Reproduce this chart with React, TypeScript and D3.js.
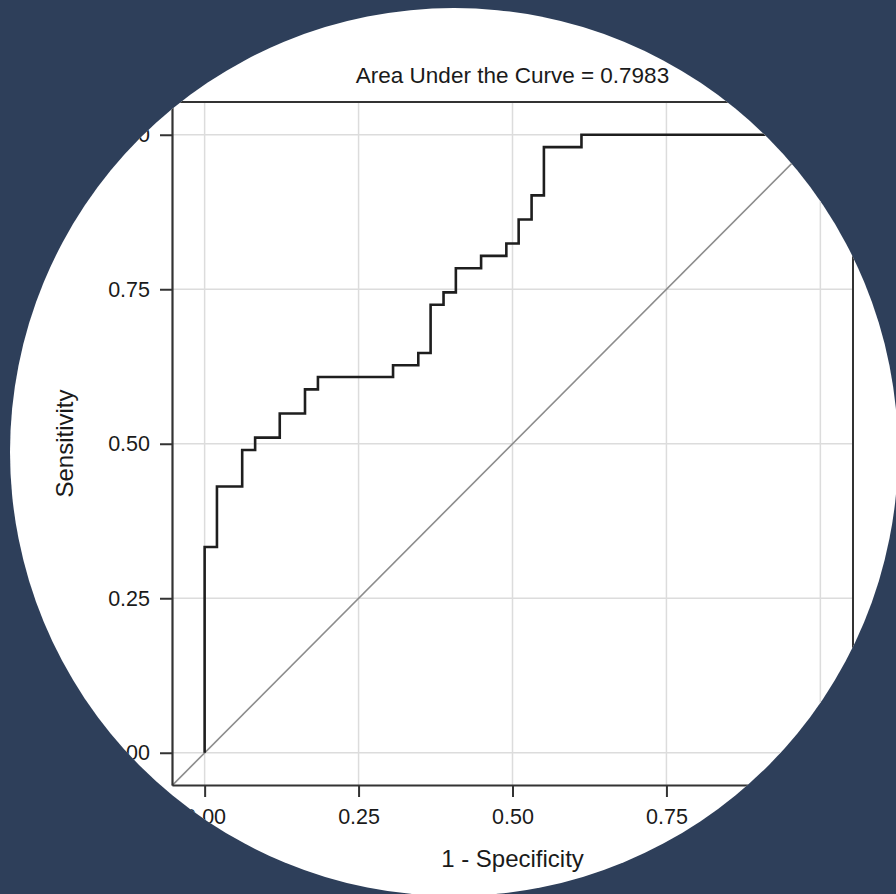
import React, { useEffect, useRef } from 'react'
import * as d3 from 'd3'

// ROC points (1 - specificity, sensitivity)
const fpr = [0, 0.020, 0.061, 0.082, 0.122, 0.163, 0.184, 0.306, 0.347, 0.367, 0.388, 0.408, 0.449, 0.490, 0.510, 0.531, 0.551, 0.612, 1.0]
const tpr = [0, 0.333, 0.431, 0.490, 0.510, 0.549, 0.588, 0.608, 0.627, 0.647, 0.725, 0.745, 0.784, 0.804, 0.824, 0.863, 0.902, 0.980, 1.0]
const tickValues = [0, 0.25, 0.5, 0.75, 1]
const title = 'Area Under the Curve = 0.7983'
const xTitle = '1 - Specificity'
const yTitle = 'Sensitivity'

function App() {
  const ref = useRef<SVGSVGElement>(null)

  useEffect(() => {
    const w = 896
    const h = 894
    const left = 172
    const right = 853
    const top = 102
    const bottom = 785
    const font = '"Liberation Sans", Arial, sans-serif'

    const svg = d3.select(ref.current)
    svg.selectAll('*').remove()
    svg.attr('width', w).attr('height', h)

    // navy page + round white crop
    svg.append('rect').attr('width', w).attr('height', h).attr('fill', '#2e3f5a')
    svg.append('clipPath').attr('id', 'round')
      .append('circle').attr('cx', 454).attr('cy', 452).attr('r', 444)

    const g = svg.append('g').attr('clip-path', 'url(#round)')
    g.append('rect').attr('width', w).attr('height', h).attr('fill', '#ffffff')

    const x = d3.scaleLinear().domain([-0.053, 1.053]).range([left, right])
    const y = d3.scaleLinear().domain([-0.052, 1.053]).range([bottom, top])

    // GRID
    g.append('g').selectAll('line')
      .data(tickValues)
      .join('line')
      .attr('x1', d => x(d)).attr('x2', d => x(d))
      .attr('y1', top).attr('y2', bottom)
      .attr('stroke', '#dcdcdc').attr('stroke-width', 1.5)
    g.append('g').selectAll('line')
      .data(tickValues)
      .join('line')
      .attr('x1', left).attr('x2', right)
      .attr('y1', d => y(d)).attr('y2', d => y(d))
      .attr('stroke', '#dcdcdc').attr('stroke-width', 1.5)

    // plot region outline (top, right)
    g.append('path')
      .attr('d', `M${left},${top}H${right}V${bottom}`)
      .attr('fill', 'none')
      .attr('stroke', '#333')
      .attr('stroke-width', 2)

    // reference diagonal
    g.append('line')
      .attr('x1', x(-0.053)).attr('y1', y(-0.053))
      .attr('x2', x(1.053)).attr('y2', y(1.053))
      .attr('stroke', '#8c8c8c')
      .attr('stroke-width', 1.6)

    // ROC curve
    const line = d3.line<number>()
      .x((d, i) => x(fpr[i]))
      .y((d, i) => y(tpr[i]))
      .curve(d3.curveStepBefore)
    g.append('path')
      .attr('d', line(fpr))
      .attr('fill', 'none')
      .attr('stroke', '#1e1e1e')
      .attr('stroke-width', 2.6)

    // AXES
    const fmt = d3.format('.2f')
    const yAxis = g.append('g')
      .attr('transform', `translate(${left},0)`)
      .call(d3.axisLeft(y).tickValues(tickValues).tickFormat(d => fmt(d as number)).tickSize(12).tickSizeOuter(0).tickPadding(10))
    const xAxis = g.append('g')
      .attr('transform', `translate(0,${bottom})`)
      .call(d3.axisBottom(x).tickValues(tickValues).tickFormat(d => fmt(d as number)).tickSize(12).tickSizeOuter(0).tickPadding(12))

    for (const ax of [xAxis, yAxis]) {
      ax.select('.domain').attr('stroke', '#333').attr('stroke-width', 2.2)
      ax.selectAll('.tick line').attr('stroke', '#333').attr('stroke-width', 2)
      ax.selectAll('.tick text')
        .attr('fill', '#1a1a1a')
        .attr('font-family', font)
        .attr('font-size', 21.5)
    }

    // TITLES
    g.append('text')
      .text(title)
      .attr('x', (left + right) / 2)
      .attr('y', 83)
      .attr('text-anchor', 'middle')
      .attr('font-family', font)
      .attr('font-size', 22.5)
      .attr('fill', '#1a1a1a')

    g.append('text')
      .text(xTitle)
      .attr('x', (left + right) / 2)
      .attr('y', 867)
      .attr('text-anchor', 'middle')
      .attr('font-family', font)
      .attr('font-size', 24)
      .attr('fill', '#1a1a1a')

    g.append('text')
      .text(yTitle)
      .attr('transform', `translate(73,${(top + bottom) / 2}) rotate(-90)`)
      .attr('text-anchor', 'middle')
      .attr('font-family', font)
      .attr('font-size', 24)
      .attr('fill', '#1a1a1a')
  }, [])

  return (
    <div style={{ position: 'absolute', left: 0, top: 0 }}>
      <svg ref={ref} style={{ display: 'block' }}></svg>
    </div>
  )
}

export default App
